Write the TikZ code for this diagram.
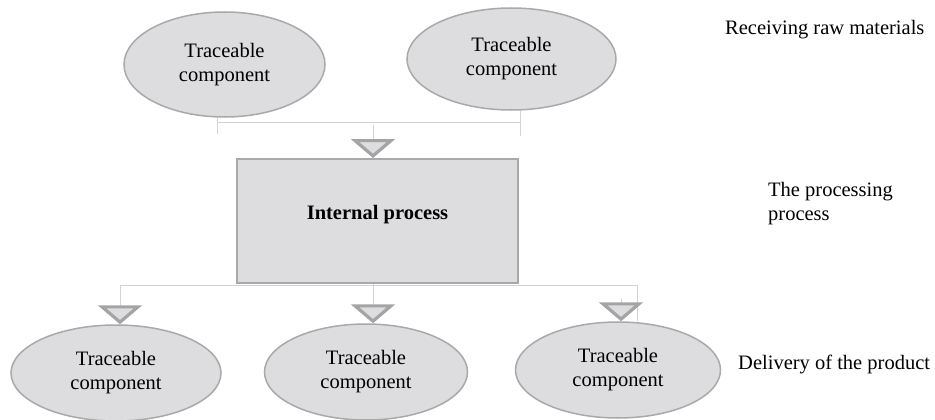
\documentclass[tikz,border=0pt]{standalone}
\usepackage{fontspec}
\setmainfont{Liberation Serif}
\usetikzlibrary{shapes.geometric,arrows.meta,positioning}

\definecolor{boxfill}{HTML}{DDDDDF}
\definecolor{boxline}{HTML}{A9A9A9}
\definecolor{linkline}{HTML}{D3D3D3}
\definecolor{tipline}{HTML}{A4A4A4}

\tikzset{
  comp/.style={ellipse, draw=boxline, line width=1.5pt, fill=boxfill,
    inner sep=0pt, align=center, font=\fontsize{20.5}{24}\selectfont},
  proc/.style={rectangle, draw=boxline, line width=2pt, fill=boxfill,
    minimum width=281pt, minimum height=124pt, text depth=17.5pt,
    font=\fontsize{20.5}{24}\selectfont\bfseries},
  stage/.style={inner sep=0pt, align=left, font=\fontsize{20.5}{24}\selectfont},
  link/.style={draw=linkline, line width=1pt},
  flow/.style={link, -{Triangle[length=19pt, width=44pt, line width=3.2pt,
    color=tipline, fill=boxfill]}}
}

\begin{document}
\begin{tikzpicture}[x=1pt, y=-1pt]
    \useasboundingbox (0,0) rectangle (935,420);

    % Raw materials
    \node[comp, minimum width=201pt, minimum height=105pt] (t1) at (224.5,64.5) {Traceable\\component};
    \node[comp, minimum width=209pt, minimum height=102pt] (t2) at (511.5,59) {Traceable\\component};

    % Internal process
    \node[proc] (proc) at (377.5,221) {Internal process};

    % Product
    \node[comp, minimum width=210pt, minimum height=96pt] (b1) at (116,373) {Traceable\\component};
    \node[comp, minimum width=203pt, minimum height=96pt] (b2) at (366,372) {Traceable\\component};
    \node[comp, minimum width=205pt, minimum height=96pt] (b3) at (618,370) {Traceable\\component};

    % Stage labels
    \node[stage, anchor=base west] (s1) at (725,35) {Receiving raw materials};
    \node[stage, anchor=west] (s2) at (768,204) {The processing\\process};
    \node[stage, anchor=base west] (s3) at (738,369) {Delivery of the product};

    % Bus lines
    \coordinate (tbL) at (217,122);
    \coordinate (tbM) at (373,125);
    \coordinate (tbR) at (520,122);
    \coordinate (bbL) at (120,285);
    \coordinate (bbM) at (373,285);
    \coordinate (bbR) at (637,285);
    \coordinate (tipR) at (621,299);

    % Connectors in
    \draw[link] (tbL |- t1.south) -- ++(0,16);
    \draw[link] (tbR |- t2.south) -- ++(0,25);
    \draw[link] (tbL) -- (tbR);
    \draw[flow] (tbM) -- (tbM |- proc.north);

    % Connectors out
    \draw[link] (bbL) -- (bbR);
    \draw[link] (bbR) -- (bbR |- b3.north);
    \draw[flow] (bbL) -- (bbL |- b1.north);
    \draw[flow] (bbM |- proc.south) -- (bbM |- b2.north);
    \draw[flow] (tipR) -- (tipR |- b3.north);
\end{tikzpicture}
\end{document}
